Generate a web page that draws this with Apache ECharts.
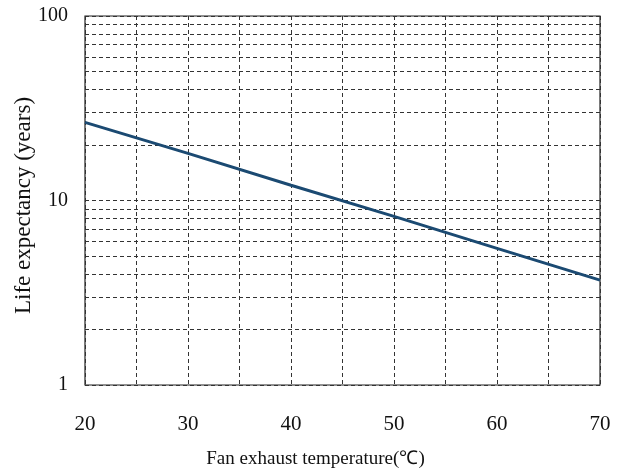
<!DOCTYPE html>
<html>
<head>
<meta charset="utf-8">
<script src="https://cdn.jsdelivr.net/npm/echarts@6/dist/echarts.min.js"></script>
<style>html,body{margin:0;padding:0;background:#fff;}#c{width:622px;height:470px;}</style>
</head>
<body>
<div id="c"></div>
<script>
var temps = [20, 30, 40, 50, 60, 70];
var lifeYears = [26.5, 18, 12.1, 8.2, 5.5, 3.7];
var minorGridValues = [2, 3, 4, 5, 6, 7, 8, 9, 20, 30, 40, 50, 60, 70, 80, 90];
var xTitle = 'Fan exhaust temperature(℃)';
var yTitle = 'Life expectancy (years)';

var chart = echarts.init(document.getElementById('c'));
var dashStyle = {color: '#333', width: 1, type: [4, 3]};
chart.setOption({
  animation: false,
  backgroundColor: '#fff',
  textStyle: {fontFamily: 'Liberation Serif'},
  grid: {left: 85, right: 22, top: 16, bottom: 85, show: true, borderColor: '#222', borderWidth: 1.2,
         outerBoundsMode: 'none', containLabel: false},
  xAxis: {
    type: 'value', min: 20, max: 70, interval: 10,
    axisLine: {show: false}, axisTick: {show: false},
    splitLine: {show: true, lineStyle: dashStyle},
    minorTick: {show: false, splitNumber: 2},
    minorSplitLine: {show: true, lineStyle: dashStyle},
    axisLabel: {color: '#111', fontSize: 21, fontFamily: 'Liberation Serif', margin: 29},
    name: xTitle, nameLocation: 'middle', nameGap: 65, nameMoveOverlap: false,
    nameTextStyle: {color: '#111', fontSize: 19, fontFamily: 'Liberation Serif', padding: [0, 54, 0, 0]}
  },
  yAxis: {
    type: 'log', logBase: 10, min: 1, max: 100,
    axisLine: {show: false}, axisTick: {show: false},
    splitLine: {show: true, lineStyle: dashStyle},
    axisLabel: {color: '#111', fontSize: 20, fontFamily: 'Liberation Serif', margin: 17, padding: [4, 0, 0, 0]},
    name: yTitle, nameLocation: 'middle', nameGap: 50, nameMoveOverlap: false,
    nameTextStyle: {color: '#111', fontSize: 23, fontFamily: 'Liberation Serif', padding: [0, 10, 0, 0]}
  },
  series: [{
    type: 'line',
    data: temps.map(function (t, i) { return [t, lifeYears[i]]; }),
    showSymbol: false,
    lineStyle: {color: '#1b4a72', width: 3},
    markLine: {
      silent: true, symbol: 'none', label: {show: false},
      lineStyle: dashStyle,
      data: minorGridValues.map(function (v) { return {yAxis: v}; })
    },
    z: 5
  }]
});
</script>
</body>
</html>
